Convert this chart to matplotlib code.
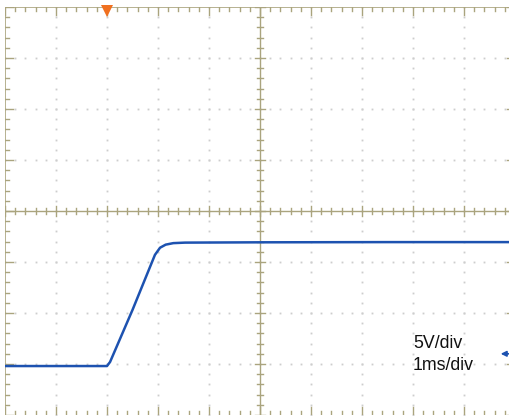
import numpy as np
import matplotlib
matplotlib.use('Agg')
import matplotlib.pyplot as plt

# trace: time in ms, level in V (5 V/div, 1 ms/div)
time_ms = [-5.0, -3.0, -2.94, -2.5, -2.06, -1.96, -1.85, -1.70, -1.47, 0.0, 2.5, 5.0]
volts = [-15.2, -15.2, -14.8, -9.7, -4.3, -3.6, -3.3, -3.15, -3.1, -3.07, -3.05, -3.05]

volts_per_div = 5
scale_labels = ['5V/div', '1ms/div']
trigger_ms = -3.0
ground_v = -14.0

grid_col = '#cdcdcd'
frame_col = '#aaa47e'
trace_col = '#1d52b0'

fig = plt.figure(figsize=(5.10, 4.17), dpi=100)
# screen runs a little past the right edge of the picture
ax = fig.add_axes([5 / 510, 2 / 417, 510 / 510, 408 / 417])
ax.set_xlim(-5, 5)
ax.set_ylim(-20, 20)
ax.axis('off')

px_x = 1 / 51.0
px_y = volts_per_div / 51.0

# dotted graticule
xs_major = np.arange(-4, 5, 1)
ys_major = np.arange(-15, 20, 5)
minor_x = np.arange(-5, 5.01, 0.2)
minor_y = np.arange(-20, 20.01, 1)
for xm in xs_major:
    if xm == 0:
        continue
    ax.plot(np.full_like(minor_y, xm), minor_y, ls='none', marker='s',
            ms=1.3, mew=0, color=grid_col)
for ym in ys_major:
    if ym == 0:
        continue
    ax.plot(minor_x, np.full_like(minor_x, ym), ls='none', marker='s',
            ms=1.3, mew=0, color=grid_col)

# centre axes with ticks
ax.plot([-5, 5], [0, 0], color=frame_col, lw=1.0)
ax.plot([0, 0], [-20, 20], color=frame_col, lw=1.0)
for xm in minor_x:
    h = 5 if abs(xm - round(xm)) < 1e-6 else 3
    ax.plot([xm, xm], [-h * px_y, h * px_y], color=frame_col, lw=1.0)
for ym in minor_y:
    h = 5 if abs(ym / 5 - round(ym / 5)) < 1e-6 else 3
    ax.plot([-h * px_x, h * px_x], [ym, ym], color=frame_col, lw=1.0)

# border ticks
ax.plot([-5, 5], [20, 20], color=frame_col, lw=1.2)
ax.plot([-5, -5], [-20, 20], color=frame_col, lw=1.2)
for xm in minor_x:
    h = 8 if abs(xm - round(xm)) < 1e-6 else 4
    ax.plot([xm, xm], [20, 20 - h * px_y], color=frame_col, lw=1.0)
    ax.plot([xm, xm], [-20, -20 + h * px_y], color=frame_col, lw=1.0)
for ym in minor_y:
    h = 8 if abs(ym / 5 - round(ym / 5)) < 1e-6 else 4
    ax.plot([-5, -5 + h * px_x], [ym, ym], color=frame_col, lw=1.0)
    ax.plot([5, 5 - h * px_x], [ym, ym], color=frame_col, lw=1.0)

# trace
ax.plot(time_ms, volts, color=trace_col, lw=1.8, solid_capstyle='butt',
        solid_joinstyle='round')

# trigger marker and ground marker
ax.plot([trigger_ms], [19.6], marker='v', ms=8, color='#f07020', mew=0,
        clip_on=False)
ax.annotate('', xy=(4.72, ground_v), xytext=(4.92, ground_v),
            arrowprops=dict(arrowstyle='-|>', color=trace_col, lw=1.2,
                            mutation_scale=8, shrinkA=0, shrinkB=0),
            annotation_clip=False)

# scale labels
for i, lab in enumerate(scale_labels):
    ax.text(3.0, -13.4 - i * 2.15, lab, fontsize=12.8, family='Liberation Sans',
            color='#111111', va='baseline', ha='left')

fig.savefig('out.png', dpi=100)
